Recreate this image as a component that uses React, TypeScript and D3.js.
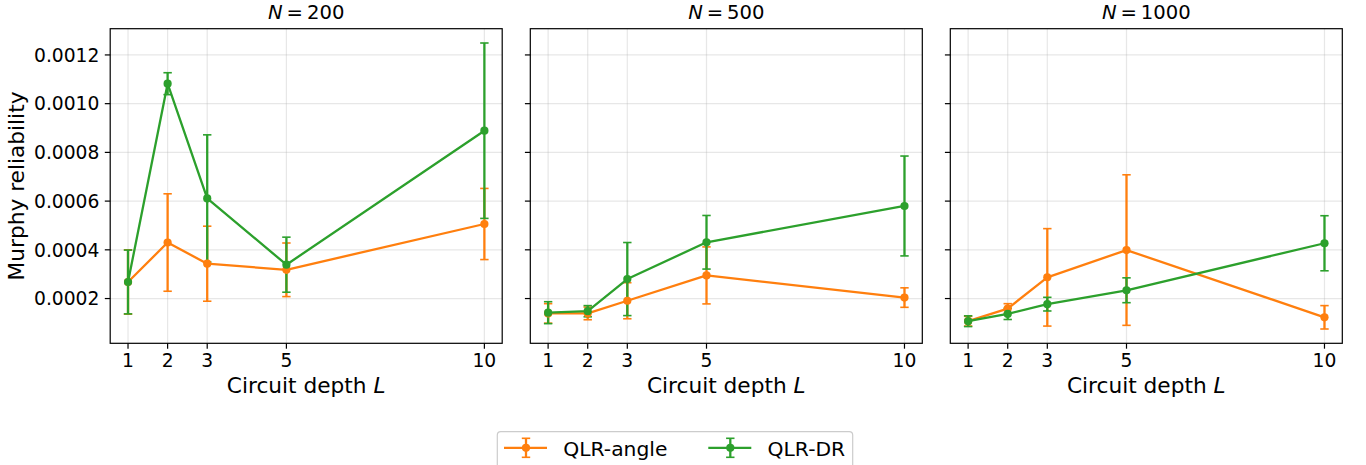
import React from "react";
import * as d3 from "d3";

const depths = [1, 2, 3, 5, 10];
const sampleSizes = ["200", "500", "1000"];
const seriesNames = ["QLR-angle", "QLR-DR"];
const seriesColors = ["#ff7f0e", "#2ca02c"];
const yTicks = [0.0002, 0.0004, 0.0006, 0.0008, 0.001, 0.0012];
const yTickLabels = ["0.0002", "0.0004", "0.0006", "0.0008", "0.0010", "0.0012"];

// N = 200
const angleMean200 = [0.000268, 0.00043, 0.000343, 0.000318, 0.000506];
const angleErr200 = [0.000132, 0.0002, 0.000154, 0.00011, 0.000146];
const drMean200 = [0.000268, 0.001082, 0.000611, 0.000339, 0.000889];
const drErr200 = [0.000131, 0.000045, 0.000261, 0.000113, 0.00036];
// N = 500
const angleMean500 = [0.000139, 0.000139, 0.000191, 0.000295, 0.000204];
const angleErr500 = [0.00004, 0.000026, 0.000074, 0.000117, 0.00004];
const drMean500 = [0.000142, 0.000148, 0.00028, 0.000431, 0.00058];
const drErr500 = [0.000045, 0.000023, 0.00015, 0.00011, 0.000205];
// N = 1000
const angleMean1000 = [0.000107, 0.000159, 0.000287, 0.000399, 0.000123];
const angleErr1000 = [0.00002, 0.00002, 0.0002, 0.000309, 0.000048];
const drMean1000 = [0.000107, 0.000137, 0.000177, 0.000234, 0.000427];
const drErr1000 = [0.000022, 0.000023, 0.000028, 0.000051, 0.000113];

const panelData = [
  [
    { mean: angleMean200, err: angleErr200 },
    { mean: drMean200, err: drErr200 },
  ],
  [
    { mean: angleMean500, err: angleErr500 },
    { mean: drMean500, err: drErr500 },
  ],
  [
    { mean: angleMean1000, err: angleErr1000 },
    { mean: drMean1000, err: drErr1000 },
  ],
];

const W = 1366;
const H = 465;
const panelLefts = [110.2, 530.3, 950.3];
const panelW = 392;
const top = 28.7;
const bottom = 343.3;
const FONT = "DejaVu Sans, sans-serif";
const tickFs = 18.7;
const labelFs = 21.7;
const titleFs = 19.6;
const legendFs = 20.3;
const lw = 2.3;
const capHalf = 4.2;
const markerR = 4.1;
const tickLen = 5.4;

export default function App() {
  const allLo: number[] = [];
  const allHi: number[] = [];
  panelData.forEach((p) =>
    p.forEach((s) =>
      s.mean.forEach((m, i) => {
        allLo.push(m - s.err[i]);
        allHi.push(m + s.err[i]);
      })
    )
  );
  const lo = d3.min(allLo) as number;
  const hi = d3.max(allHi) as number;
  const pad = (hi - lo) * 0.05;
  const y = d3.scaleLinear().domain([lo - pad, hi + pad]).range([bottom, top]);
  const xPad = (d3.max(depths)! - d3.min(depths)!) * 0.05;

  return (
    <svg
      width={W}
      height={H}
      style={{ position: "absolute", left: 0, top: 0, background: "#fff" }}
      fontFamily={FONT}
    >
      <rect x={0} y={0} width={W} height={H} fill="#fff" />
      {panelData.map((series, pi) => {
        const left = panelLefts[pi];
        const x = d3
          .scaleLinear()
          .domain([d3.min(depths)! - xPad, d3.max(depths)! + xPad])
          .range([left, left + panelW]);
        const line = d3
          .line<number>()
          .x((_, i) => x(depths[i]))
          .y((d) => y(d));
        const cx = left + panelW / 2;
        return (
          <g key={pi}>
            {/* grid */}
            {depths.map((d) => (
              <line
                key={"gx" + d}
                x1={x(d)}
                x2={x(d)}
                y1={top}
                y2={bottom}
                stroke="#b0b0b0"
                strokeOpacity={0.3}
                strokeWidth={1.2}
              />
            ))}
            {yTicks.map((t) => (
              <line
                key={"gy" + t}
                x1={left}
                x2={left + panelW}
                y1={y(t)}
                y2={y(t)}
                stroke="#b0b0b0"
                strokeOpacity={0.3}
                strokeWidth={1.2}
              />
            ))}
            {/* error bars */}
            {series.map((s, si) => (
              <g key={"eb" + si} stroke={seriesColors[si]}>
                {s.mean.map((m, i) => {
                  const xx = x(depths[i]);
                  const y1 = y(m - s.err[i]);
                  const y2 = y(m + s.err[i]);
                  return (
                    <g key={i}>
                      <line x1={xx} x2={xx} y1={y1} y2={y2} strokeWidth={lw} />
                      <line x1={xx - capHalf} x2={xx + capHalf} y1={y1} y2={y1} strokeWidth={1.6} />
                      <line x1={xx - capHalf} x2={xx + capHalf} y1={y2} y2={y2} strokeWidth={1.6} />
                    </g>
                  );
                })}
              </g>
            ))}
            {/* lines and markers */}
            {series.map((s, si) => (
              <g key={"ln" + si}>
                <path
                  d={line(s.mean) || ""}
                  fill="none"
                  stroke={seriesColors[si]}
                  strokeWidth={lw}
                  strokeLinejoin="round"
                />
                {s.mean.map((m, i) => (
                  <circle key={i} cx={x(depths[i])} cy={y(m)} r={markerR} fill={seriesColors[si]} />
                ))}
              </g>
            ))}
            {/* frame */}
            <rect
              x={left}
              y={top}
              width={panelW}
              height={bottom - top}
              fill="none"
              stroke="#000"
              strokeWidth={1.2}
            />
            {/* x ticks */}
            {depths.map((d) => (
              <g key={"xt" + d}>
                <line x1={x(d)} x2={x(d)} y1={bottom} y2={bottom + tickLen} stroke="#000" strokeWidth={1.2} />
                <text x={x(d)} y={366.7} fontSize={tickFs} textAnchor="middle" fill="#000">
                  {d}
                </text>
              </g>
            ))}
            {/* y ticks */}
            {yTicks.map((t, ti) => (
              <g key={"yt" + t}>
                <line x1={left - tickLen} x2={left} y1={y(t)} y2={y(t)} stroke="#000" strokeWidth={1.2} />
                {pi === 0 && (
                  <text
                    x={left - tickLen - 5.4}
                    y={y(t)}
                    dy="0.36em"
                    fontSize={tickFs}
                    textAnchor="end"
                    fill="#000"
                  >
                    {yTickLabels[ti]}
                  </text>
                )}
              </g>
            ))}
            {/* x label */}
            <text x={cx} y={393.3} fontSize={labelFs} textAnchor="middle" fill="#000">
              Circuit depth <tspan fontStyle="italic">L</tspan>
            </text>
            {/* title */}
            <text x={cx} y={18.5} fontSize={titleFs} textAnchor="middle" fill="#000">
              <tspan fontStyle="italic">N</tspan>
              <tspan>{"\u2009=\u2009" + sampleSizes[pi]}</tspan>
            </text>
          </g>
        );
      })}
      {/* y label */}
      <text
        transform={`translate(23.5, ${(top + bottom) / 2}) rotate(-90)`}
        fontSize={labelFs}
        textAnchor="middle"
        fill="#000"
      >
        Murphy reliability
      </text>
      {/* legend */}
      <g>
        <rect
          x={497.3}
          y={431.7}
          width={355.4}
          height={44}
          rx={3.5}
          fill="#fff"
          fillOpacity={0.8}
          stroke="#cccccc"
          strokeWidth={1.2}
        />
        {seriesNames.map((name, i) => {
          const hx = [504, 708.3][i];
          const hy = 447.8;
          const mx = hx + 22;
          return (
            <g key={name}>
              <line x1={hx} x2={hx + 43} y1={hy} y2={hy} stroke={seriesColors[i]} strokeWidth={lw} />
              <line x1={mx} x2={mx} y1={hy - 9.5} y2={hy + 9.5} stroke={seriesColors[i]} strokeWidth={lw} />
              <line x1={mx - capHalf} x2={mx + capHalf} y1={hy - 9.5} y2={hy - 9.5} stroke={seriesColors[i]} strokeWidth={1.6} />
              <line x1={mx - capHalf} x2={mx + capHalf} y1={hy + 9.5} y2={hy + 9.5} stroke={seriesColors[i]} strokeWidth={1.6} />
              <circle cx={mx} cy={hy} r={markerR} fill={seriesColors[i]} />
              <text x={hx + 59.3} y={455.5} fontSize={legendFs} fill="#000">
                {name}
              </text>
            </g>
          );
        })}
      </g>
    </svg>
  );
}
